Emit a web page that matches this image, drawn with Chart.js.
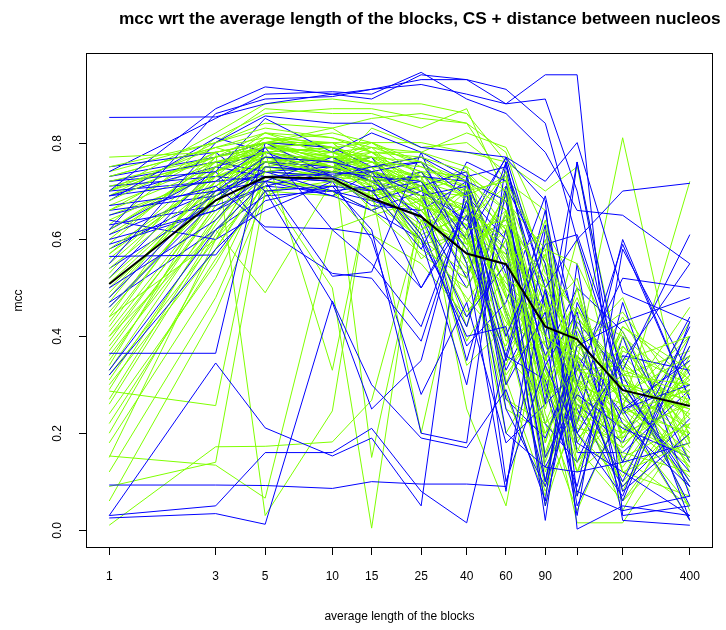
<!DOCTYPE html>
<html>
<head>
<meta charset="utf-8">
<script src="https://cdn.jsdelivr.net/npm/chart.js@4.4.1/dist/chart.umd.min.js"></script>
<style>
html,body{margin:0;padding:0;background:#fff;}
canvas{display:block;}
</style>
</head>
<body>
<canvas id="c" width="726" height="630"></canvas>
<script>
// ---- data ----
const xValues = [1, 3, 5, 10, 15, 25, 40, 60, 90, 125, 200, 400];
const xTicks = [1, 3, 5, 10, 15, 25, 40, 60, 90, 125, 200, 400];
const xTickLabels = ["1", "3", "5", "10", "15", "25", "40", "60", "90", "", "200", "400"];
const yTicks = [0, 0.2, 0.4, 0.6, 0.8];
const yTickLabels = ["0.0", "0.2", "0.4", "0.6", "0.8"];

const meanLine = [0.508, 0.681, 0.729, 0.726, 0.685, 0.647, 0.571, 0.549, 0.42, 0.394, 0.289, 0.256];

const blueLines = [
  [0.852, 0.853, 0.88, 0.90, 0.91, 0.93, 0.93, 0.88, 0.94, 0.94, 0.03, 0.05],
  [0.70, 0.87, 0.915, 0.90, 0.89, 0.94, 0.93, 0.91, 0.84, 0.60, 0.30, 0.10],
  [0.62, 0.86, 0.89, 0.895, 0.91, 0.92, 0.90, 0.88, 0.89, 0.70, 0.25, 0.02],
  [0.74, 0.85, 0.90, 0.905, 0.90, 0.945, 0.89, 0.86, 0.78, 0.66, 0.65, 0.55],
  [0.55, 0.80, 0.855, 0.84, 0.84, 0.79, 0.78, 0.77, 0.72, 0.80, 0.49, 0.43],
  [0.72, 0.74, 0.85, 0.78, 0.82, 0.78, 0.73, 0.75, 0.50, 0.60, 0.70, 0.716],
  [0.69, 0.72, 0.79, 0.62, 0.55, 0.42, 0.68, 0.40, 0.59, 0.61, 0.33, 0.61],
  [0.67, 0.70, 0.77, 0.76, 0.74, 0.76, 0.62, 0.77, 0.50, 0.20, 0.35, 0.55],
  [0.65, 0.71, 0.626, 0.622, 0.61, 0.50, 0.65, 0.30, 0.45, 0.05, 0.25, 0.30],
  [0.60, 0.66, 0.73, 0.735, 0.74, 0.61, 0.40, 0.42, 0.10, 0.38, 0.43, 0.48],
  [0.565, 0.568, 0.70, 0.47, 0.25, 0.35, 0.70, 0.10, 0.34, 0.20, 0.07, 0.43],
  [0.50, 0.64, 0.75, 0.74, 0.73, 0.72, 0.58, 0.36, 0.66, 0.30, 0.10, 0.38],
  [0.48, 0.70, 0.72, 0.524, 0.533, 0.78, 0.55, 0.08, 0.62, 0.42, 0.22, 0.09],
  [0.46, 0.68, 0.76, 0.73, 0.70, 0.58, 0.76, 0.72, 0.34, 0.45, 0.08, 0.20],
  [0.365, 0.365, 0.80, 0.73, 0.75, 0.77, 0.72, 0.35, 0.63, 0.07, 0.40, 0.02],
  [0.33, 0.62, 0.72, 0.77, 0.73, 0.60, 0.30, 0.70, 0.15, 0.28, 0.21, 0.15],
  [0.32, 0.58, 0.68, 0.71, 0.62, 0.20, 0.18, 0.76, 0.40, 0.03, 0.58, 0.32],
  [0.093, 0.093, 0.092, 0.086, 0.10, 0.095, 0.095, 0.09, 0.50, 0.18, 0.12, 0.03],
  [0.03, 0.05, 0.16, 0.16, 0.21, 0.08, 0.015, 0.36, 0.31, 0.08, 0.04, 0.07],
  [0.025, 0.034, 0.012, 0.473, 0.30, 0.19, 0.17, 0.29, 0.06, 0.55, 0.02, 0.01],
  [0.03, 0.345, 0.211, 0.153, 0.19, 0.05, 0.73, 0.25, 0.09, 0.30, 0.59, 0.27],
  [0.72, 0.76, 0.74, 0.75, 0.72, 0.73, 0.72, 0.68, 0.26, 0.76, 0.25, 0.35],
  [0.70, 0.72, 0.73, 0.72, 0.68, 0.65, 0.44, 0.55, 0.05, 0.35, 0.06, 0.40],
  [0.66, 0.69, 0.74, 0.70, 0.71, 0.50, 0.67, 0.20, 0.13, 0.12, 0.14, 0.18],
  [0.62, 0.74, 0.62, 0.53, 0.52, 0.39, 0.68, 0.58, 0.02, 0.47, 0.28, 0.12],
  [0.75, 0.78, 0.70, 0.71, 0.70, 0.72, 0.60, 0.74, 0.46, 0.22, 0.60, 0.27],
  [0.58, 0.69, 0.76, 0.75, 0.77, 0.63, 0.38, 0.47, 0.69, 0.40, 0.14, 0.42],
  [0.52, 0.75, 0.73, 0.69, 0.74, 0.71, 0.35, 0.62, 0.29, 0.09, 0.47, 0.07],
  [0.64, 0.60, 0.66, 0.72, 0.60, 0.28, 0.47, 0.18, 0.26, 0.33, 0.52, 0.50],
  [0.68, 0.81, 0.78, 0.73, 0.67, 0.66, 0.72, 0.53, 0.13, 0.26, 0.18, 0.44],
  [0.71, 0.73, 0.72, 0.69, 0.66, 0.70, 0.64, 0.768, 0.68, 0.002, 0.05, 0.03],
  [0.63, 0.67, 0.71, 0.74, 0.72, 0.69, 0.52, 0.76, 0.40, 0.76, 0.30, 0.09],
  [0.61, 0.70, 0.74, 0.73, 0.74, 0.69, 0.71, 0.45, 0.22, 0.14, 0.36, 0.33],
  [0.54, 0.68, 0.73, 0.72, 0.70, 0.74, 0.62, 0.33, 0.49, 0.25, 0.09, 0.23],
  [0.69, 0.75, 0.78, 0.76, 0.72, 0.65, 0.50, 0.65, 0.36, 0.50, 0.41, 0.14],
  [0.47, 0.62, 0.69, 0.70, 0.68, 0.71, 0.74, 0.27, 0.19, 0.36, 0.24, 0.36],
  [0.59, 0.66, 0.71, 0.70, 0.66, 0.60, 0.42, 0.71, 0.55, 0.16, 0.16, 0.29],
  [0.73, 0.77, 0.80, 0.79, 0.75, 0.76, 0.69, 0.60, 0.10, 0.43, 0.32, 0.05]
];

const greenLines = [
  [0.77, 0.78, 0.80, 0.82, 0.80, 0.76, 0.72, 0.66, 0.50, 0.38, 0.30, 0.25],
  [0.75, 0.80, 0.83, 0.81, 0.79, 0.78, 0.75, 0.70, 0.48, 0.30, 0.22, 0.15],
  [0.73, 0.79, 0.82, 0.79, 0.80, 0.73, 0.70, 0.72, 0.56, 0.44, 0.33, 0.28],
  [0.72, 0.77, 0.80, 0.80, 0.78, 0.77, 0.74, 0.62, 0.40, 0.35, 0.20, 0.32],
  [0.71, 0.76, 0.78, 0.79, 0.77, 0.76, 0.68, 0.58, 0.35, 0.48, 0.25, 0.20],
  [0.70, 0.79, 0.81, 0.78, 0.76, 0.75, 0.71, 0.55, 0.62, 0.28, 0.38, 0.23],
  [0.68, 0.78, 0.80, 0.77, 0.78, 0.72, 0.69, 0.73, 0.30, 0.42, 0.28, 0.36],
  [0.66, 0.75, 0.79, 0.77, 0.76, 0.70, 0.66, 0.60, 0.45, 0.52, 0.18, 0.27],
  [0.64, 0.74, 0.78, 0.76, 0.74, 0.71, 0.62, 0.64, 0.52, 0.33, 0.30, 0.19],
  [0.62, 0.76, 0.77, 0.75, 0.73, 0.69, 0.60, 0.50, 0.38, 0.25, 0.32, 0.30],
  [0.60, 0.77, 0.79, 0.78, 0.77, 0.74, 0.73, 0.68, 0.58, 0.55, 0.35, 0.40],
  [0.58, 0.73, 0.76, 0.74, 0.72, 0.68, 0.58, 0.66, 0.42, 0.36, 0.15, 0.22],
  [0.56, 0.74, 0.80, 0.76, 0.79, 0.70, 0.67, 0.45, 0.20, 0.30, 0.26, 0.14],
  [0.54, 0.72, 0.78, 0.75, 0.77, 0.72, 0.64, 0.57, 0.33, 0.16, 0.40, 0.28],
  [0.52, 0.71, 0.77, 0.73, 0.74, 0.67, 0.63, 0.74, 0.28, 0.40, 0.12, 0.18],
  [0.50, 0.70, 0.76, 0.78, 0.75, 0.66, 0.70, 0.52, 0.46, 0.22, 0.42, 0.33],
  [0.48, 0.73, 0.81, 0.79, 0.76, 0.73, 0.55, 0.40, 0.64, 0.34, 0.21, 0.31],
  [0.46, 0.69, 0.79, 0.80, 0.73, 0.64, 0.59, 0.63, 0.25, 0.46, 0.29, 0.25],
  [0.44, 0.75, 0.82, 0.77, 0.72, 0.69, 0.66, 0.48, 0.36, 0.18, 0.35, 0.21],
  [0.42, 0.72, 0.78, 0.76, 0.71, 0.62, 0.68, 0.56, 0.50, 0.27, 0.16, 0.12],
  [0.40, 0.68, 0.77, 0.74, 0.75, 0.58, 0.52, 0.70, 0.40, 0.31, 0.24, 0.29],
  [0.38, 0.66, 0.74, 0.76, 0.70, 0.63, 0.71, 0.44, 0.22, 0.38, 0.45, 0.26],
  [0.36, 0.64, 0.76, 0.72, 0.68, 0.60, 0.48, 0.38, 0.60, 0.24, 0.20, 0.35],
  [0.34, 0.70, 0.80, 0.75, 0.66, 0.57, 0.50, 0.65, 0.15, 0.36, 0.28, 0.16],
  [0.32, 0.60, 0.75, 0.73, 0.69, 0.71, 0.61, 0.32, 0.44, 0.20, 0.10, 0.24],
  [0.30, 0.58, 0.73, 0.70, 0.61, 0.55, 0.44, 0.60, 0.31, 0.43, 0.33, 0.10],
  [0.287, 0.257, 0.75, 0.74, 0.71, 0.66, 0.57, 0.36, 0.27, 0.50, 0.19, 0.30],
  [0.153, 0.134, 0.066, 0.62, 0.65, 0.68, 0.39, 0.53, 0.05, 0.26, 0.22, 0.05],
  [0.01, 0.172, 0.173, 0.182, 0.268, 0.64, 0.60, 0.20, 0.34, 0.12, 0.30, 0.27],
  [0.09, 0.14, 0.70, 0.72, 0.69, 0.60, 0.53, 0.70, 0.12, 0.28, 0.06, 0.20],
  [0.15, 0.60, 0.71, 0.50, 0.004, 0.69, 0.34, 0.42, 0.57, 0.32, 0.14, 0.38],
  [0.40, 0.62, 0.49, 0.72, 0.70, 0.20, 0.62, 0.31, 0.08, 0.23, 0.41, 0.17],
  [0.57, 0.76, 0.78, 0.33, 0.72, 0.73, 0.25, 0.05, 0.48, 0.14, 0.25, 0.72],
  [0.66, 0.78, 0.03, 0.246, 0.74, 0.72, 0.55, 0.68, 0.38, 0.30, 0.36, 0.23],
  [0.44, 0.60, 0.78, 0.79, 0.15, 0.62, 0.70, 0.28, 0.07, 0.35, 0.81, 0.18],
  [0.69, 0.80, 0.84, 0.83, 0.85, 0.86, 0.84, 0.78, 0.53, 0.45, 0.40, 0.12],
  [0.63, 0.81, 0.86, 0.87, 0.87, 0.85, 0.84, 0.72, 0.66, 0.24, 0.30, 0.08],
  [0.70, 0.82, 0.88, 0.89, 0.88, 0.88, 0.86, 0.76, 0.42, 0.40, 0.17, 0.34],
  [0.74, 0.80, 0.87, 0.86, 0.86, 0.83, 0.87, 0.69, 0.31, 0.12, 0.20, 0.26],
  [0.73, 0.79, 0.76, 0.74, 0.83, 0.79, 0.80, 0.74, 0.55, 0.35, 0.27, 0.40],
  [0.69, 0.77, 0.80, 0.83, 0.78, 0.78, 0.82, 0.79, 0.62, 0.50, 0.12, 0.07],
  [0.61, 0.75, 0.81, 0.80, 0.80, 0.80, 0.78, 0.76, 0.70, 0.75, 0.32, 0.13],
  [0.47, 0.74, 0.79, 0.77, 0.75, 0.77, 0.70, 0.45, 0.35, 0.60, 0.24, 0.02],
  [0.53, 0.77, 0.82, 0.81, 0.78, 0.74, 0.65, 0.58, 0.22, 0.04, 0.26, 0.46],
  [0.59, 0.78, 0.80, 0.76, 0.80, 0.75, 0.72, 0.61, 0.47, 0.29, 0.04, 0.29],
  [0.65, 0.73, 0.75, 0.77, 0.76, 0.71, 0.74, 0.66, 0.18, 0.38, 0.48, 0.14],
  [0.43, 0.71, 0.77, 0.75, 0.74, 0.67, 0.64, 0.71, 0.30, 0.015, 0.015, 0.22],
  [0.39, 0.69, 0.74, 0.73, 0.76, 0.69, 0.58, 0.25, 0.20, 0.34, 0.08, 0.36],
  [0.35, 0.67, 0.79, 0.78, 0.74, 0.70, 0.75, 0.48, 0.58, 0.18, 0.35, 0.04],
  [0.31, 0.63, 0.77, 0.75, 0.72, 0.74, 0.69, 0.39, 0.45, 0.22, 0.13, 0.32],
  [0.27, 0.62, 0.72, 0.71, 0.73, 0.64, 0.45, 0.55, 0.10, 0.44, 0.31, 0.24],
  [0.22, 0.56, 0.70, 0.69, 0.71, 0.66, 0.54, 0.62, 0.24, 0.07, 0.38, 0.20],
  [0.18, 0.52, 0.73, 0.72, 0.74, 0.56, 0.63, 0.35, 0.39, 0.27, 0.23, 0.11],
  [0.12, 0.48, 0.71, 0.75, 0.70, 0.68, 0.42, 0.66, 0.28, 0.31, 0.09, 0.27],
  [0.06, 0.45, 0.69, 0.74, 0.72, 0.60, 0.66, 0.30, 0.52, 0.37, 0.27, 0.19],
  [0.55, 0.74, 0.77, 0.76, 0.75, 0.73, 0.70, 0.62, 0.28, 0.20, 0.42, 0.31],
  [0.45, 0.70, 0.76, 0.77, 0.74, 0.72, 0.66, 0.55, 0.18, 0.41, 0.20, 0.43],
  [0.67, 0.76, 0.79, 0.78, 0.79, 0.76, 0.60, 0.43, 0.32, 0.14, 0.28, 0.09],
  [0.49, 0.72, 0.78, 0.76, 0.73, 0.70, 0.69, 0.50, 0.40, 0.26, 0.11, 0.34],
  [0.41, 0.69, 0.75, 0.74, 0.77, 0.65, 0.56, 0.69, 0.14, 0.33, 0.34, 0.26],
  [0.33, 0.65, 0.78, 0.79, 0.76, 0.71, 0.52, 0.34, 0.55, 0.21, 0.19, 0.40],
  [0.26, 0.61, 0.76, 0.75, 0.70, 0.62, 0.67, 0.46, 0.26, 0.46, 0.25, 0.13],
  [0.20, 0.58, 0.74, 0.73, 0.72, 0.59, 0.61, 0.57, 0.36, 0.12, 0.37, 0.30],
  [0.62, 0.75, 0.80, 0.79, 0.76, 0.71, 0.58, 0.27, 0.22, 0.29, 0.44, 0.18],
  [0.70, 0.77, 0.79, 0.80, 0.74, 0.69, 0.63, 0.51, 0.43, 0.23, 0.17, 0.33],
  [0.57, 0.73, 0.77, 0.77, 0.71, 0.73, 0.71, 0.41, 0.09, 0.39, 0.29, 0.21],
  [0.37, 0.67, 0.80, 0.76, 0.77, 0.68, 0.47, 0.60, 0.33, 0.17, 0.06, 0.25],
  [0.29, 0.64, 0.73, 0.74, 0.73, 0.61, 0.65, 0.37, 0.47, 0.24, 0.32, 0.37],
  [0.51, 0.71, 0.79, 0.75, 0.78, 0.70, 0.73, 0.49, 0.16, 0.34, 0.15, 0.05],
  [0.24, 0.55, 0.72, 0.70, 0.66, 0.74, 0.59, 0.64, 0.41, 0.19, 0.26, 0.15]
];

const titleText = "mcc wrt the average length of the blocks, CS + distance between nucleos";
const xTitle = "average length of the blocks";
const yTitle = "mcc";

// ---- build datasets ----
const BLUE = "#0000FF", GREEN = "#7FFF00";
function pts(arr) { return arr.map((v, i) => ({ x: xValues[i], y: v })); }
function ds(arr, color, w) {
  return { data: pts(arr), borderColor: color, borderWidth: w, pointRadius: 0,
           tension: 0, fill: false, clip: 0 };
}
const datasets = [ds(meanLine, "#000000", 2)];
const n = Math.max(blueLines.length, greenLines.length);
for (let i = 0; i < n; i++) {
  if (i < greenLines.length) datasets.push(ds(greenLines[i], GREEN, 1));
  if (i < blueLines.length) datasets.push(ds(blueLines[i], BLUE, 1));
}

const FONT = "'Liberation Sans', Arial, Helvetica, sans-serif";

const decor = {
  id: "decor",
  afterDraw(chart) {
    const { ctx, chartArea: a } = chart;
    const ys = chart.scales.y;
    ctx.save();
    ctx.strokeStyle = "#000";
    ctx.lineWidth = 1;
    ctx.strokeRect(Math.round(a.left) + 0.5, Math.round(a.top) + 0.5,
                   Math.round(a.right - a.left) - 1, Math.round(a.bottom - a.top) - 1);
    // y ticks + rotated labels
    ctx.fillStyle = "#000";
    ctx.font = "12px " + FONT;
    yTicks.forEach((v, i) => {
      const py = Math.round(ys.getPixelForValue(v)) + 0.5;
      ctx.beginPath();
      ctx.moveTo(a.left - 7, py);
      ctx.lineTo(a.left, py);
      ctx.stroke();
      ctx.save();
      ctx.translate(58, py);
      ctx.rotate(-Math.PI / 2);
      ctx.textAlign = "center";
      ctx.textBaseline = "middle";
      ctx.fillText(yTickLabels[i], 0, 0);
      ctx.restore();
    });
    // axis titles
    ctx.textAlign = "center";
    ctx.textBaseline = "middle";
    ctx.fillText(xTitle, (a.left + a.right) / 2, 617);
    ctx.save();
    ctx.translate(19, (a.top + a.bottom) / 2);
    ctx.rotate(-Math.PI / 2);
    ctx.fillText(yTitle, 0, 0);
    ctx.restore();
    // main title, sized to span the same width as the reference
    ctx.font = "bold 14px " + FONT;
    const w14 = ctx.measureText(titleText).width;
    const size = 14 * 602 / w14;
    ctx.font = "bold " + size.toFixed(2) + "px " + FONT;
    ctx.textAlign = "left";
    ctx.fillText(titleText, 119, 19);
    ctx.restore();
  }
};

new Chart(document.getElementById("c"), {
  type: "line",
  data: { datasets },
  options: {
    responsive: false,
    animation: false,
    devicePixelRatio: 1,
    layout: { padding: { top: 53, right: 13, left: 0, bottom: 0 } },
    plugins: { legend: { display: false }, tooltip: { enabled: false }, title: { display: false } },
    scales: {
      x: {
        type: "logarithmic",
        min: 0.787,
        max: 508,
        afterBuildTicks(scale) { scale.ticks = xTicks.map(v => ({ value: v })); },
        afterFit(scale) { scale.height = 82; },
        ticks: {
          autoSkip: false, maxRotation: 0, minRotation: 0, padding: 14,
          color: "#000", font: { size: 12, family: FONT },
          callback(value) { const k = xTicks.indexOf(value); return k >= 0 ? xTickLabels[k] : ""; }
        },
        grid: { display: true, drawOnChartArea: false, drawTicks: true, tickLength: 7, color: "#000", lineWidth: 1 },
        border: { display: false }
      },
      y: {
        type: "linear",
        min: -0.037,
        max: 0.985,
        afterBuildTicks(scale) { scale.ticks = yTicks.map(v => ({ value: v })); },
        afterFit(scale) { scale.width = 86; },
        ticks: { display: false },
        grid: { display: false },
        border: { display: false }
      }
    }
  },
  plugins: [decor]
});
</script>
</body>
</html>
